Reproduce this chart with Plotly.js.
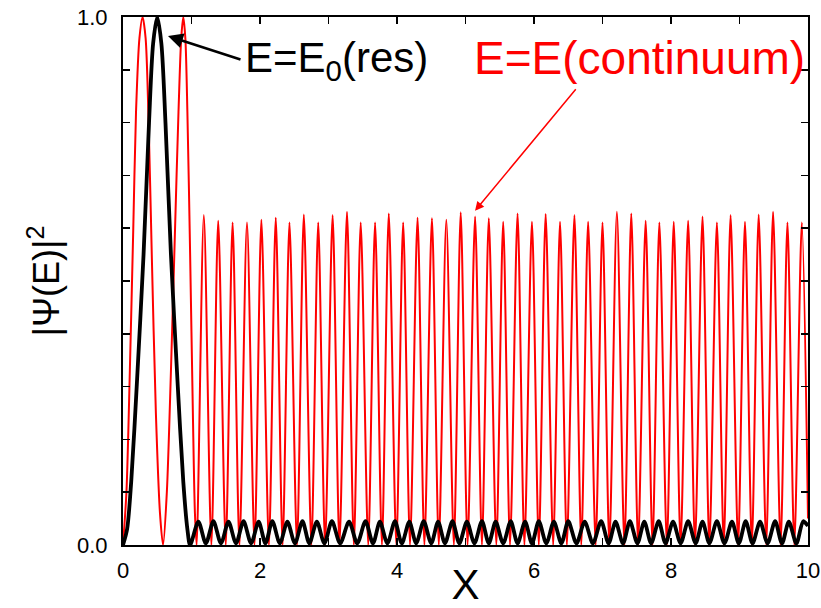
<!DOCTYPE html>
<html>
<head>
<meta charset="utf-8">
<script src="https://cdn.plot.ly/plotly-3.0.1.min.js"></script>
<style>html,body{margin:0;padding:0;background:#fff;}#chart{width:821px;height:608px;}</style>
</head>
<body>
<div id="chart"></div>
<script>
// ---- Red curve: E = E(continuum) ----
const redLobeX = [0, 0.05, 0.10, 0.15, 0.19, 0.24, 0.286, 0.33, 0.37, 0.42, 0.48, 0.54, 0.585, 0.64, 0.70, 0.76, 0.81, 0.85, 0.88, 0.91, 0.94, 0.98, 1.02, 1.05, 1.075];
const redLobeY = [0, 0.10, 0.33, 0.60, 0.82, 0.96, 1.00, 0.96, 0.82, 0.55, 0.25, 0.06, 0, 0.10, 0.33, 0.60, 0.82, 0.96, 1.00, 0.96, 0.82, 0.55, 0.25, 0.06, 0];
const redPeakX = [1.18, 1.39, 1.60, 1.81, 2.02, 2.23, 2.43, 2.64, 2.85, 3.06, 3.27, 3.47, 3.68, 3.88, 4.09, 4.30, 4.51, 4.72, 4.93, 5.14, 5.34, 5.55, 5.76, 5.97, 6.17, 6.38, 6.59, 6.79, 7.00, 7.21, 7.42, 7.63, 7.83, 8.04, 8.25, 8.46, 8.67, 8.87, 9.08, 9.28, 9.49, 9.70, 9.91];
const redPeakY = [0.625, 0.614, 0.611, 0.611, 0.616, 0.620, 0.611, 0.626, 0.611, 0.625, 0.631,
                  0.611, 0.611, 0.628, 0.611, 0.620, 0.619, 0.616, 0.630, 0.622, 0.619, 0.612, 0.628, 0.612, 0.627, 0.612, 0.625,
                  0.612, 0.611, 0.631, 0.628, 0.614, 0.611, 0.612, 0.614, 0.622, 0.611, 0.625, 0.612, 0.626, 0.631, 0.611, 0.611];
const redZeroX = [1.29, 1.50, 1.70, 1.92, 2.13, 2.33, 2.54, 2.75, 2.95, 3.16, 3.37, 3.58, 3.78, 3.99, 4.19, 4.40, 4.61, 4.83, 5.03, 5.24, 5.45, 5.65, 5.86, 6.07, 6.28, 6.48, 6.69, 6.90, 7.10, 7.32, 7.52, 7.73, 7.94, 8.14, 8.35, 8.56, 8.77, 8.98, 9.18, 9.39, 9.60, 9.80];
const redZeroY = 0;
const redEndX = [10];
const redEndY = [0.05];

// ---- Black curve: E = E0 (resonance) ----
const blackLobeX = [0, 0.06, 0.12, 0.20, 0.30, 0.38, 0.44, 0.50, 0.56, 0.62, 0.70, 0.80, 0.88, 0.94, 0.98];
const blackLobeY = [0, 0.03, 0.12, 0.30, 0.55, 0.80, 0.95, 1.00, 0.95, 0.80, 0.55, 0.30, 0.12, 0.03, 0];
const blackPeakX = [1.10, 1.32, 1.54, 1.76, 1.98, 2.18, 2.40, 2.62, 2.83, 3.05, 3.30, 3.54, 3.75, 3.97, 4.18, 4.39, 4.60, 4.81, 5.02, 5.24, 5.44, 5.66, 5.87, 6.07, 6.29, 6.50, 6.74, 6.98, 7.19, 7.40, 7.61, 7.82, 8.03, 8.25, 8.46, 8.67, 8.89, 9.09, 9.30, 9.52, 9.72, 9.93];
const blackPeakY = [0.044, 0.045, 0.044, 0.045, 0.044, 0.045, 0.044, 0.045, 0.044, 0.045, 0.044, 0.045, 0.044, 0.045, 0.044, 0.045, 0.044, 0.045, 0.044, 0.045, 0.044,
                    0.045, 0.044, 0.045, 0.044, 0.045, 0.044, 0.045, 0.044, 0.045, 0.044, 0.045, 0.044, 0.045, 0.044, 0.045, 0.044, 0.045, 0.044, 0.045, 0.044, 0.045];
const blackTroughX = [1.21, 1.43, 1.65, 1.87, 2.08, 2.29, 2.51, 2.72, 2.94, 3.17, 3.42, 3.65, 3.86, 4.07, 4.28, 4.50, 4.70, 4.91, 5.13, 5.34, 5.55, 5.76, 5.97, 6.18, 6.40, 6.62, 6.86, 7.09, 7.30, 7.51, 7.71, 7.92, 8.14, 8.36, 8.56, 8.78, 8.99, 9.19, 9.41, 9.62, 9.83];
const blackTroughY = 0.003;
const blackEndX = [10];
const blackEndY = [0.036];

// ---- Ticks ----
const xTickVals = [0, 1, 2, 3, 4, 5, 6, 7, 8, 9, 10];
const xTickText = ['0', '', '2', '', '4', '', '6', '', '8', '', '10'];
const yTickVals = [0, 0.1, 0.2, 0.3, 0.4, 0.5, 0.6, 0.7, 0.8, 0.9, 1.0];
const yTickText = ['0.0', '', '', '', '', '', '', '', '', '', '1.0'];

function merge(parts) {
  const pts = [];
  parts.forEach(p => {
    p.x.forEach((xv, i) => pts.push([xv, Array.isArray(p.y) ? p.y[i] : p.y]));
  });
  pts.sort((a, b) => a[0] - b[0]);
  return { x: pts.map(p => p[0]), y: pts.map(p => p[1]) };
}

const red = merge([
  { x: redLobeX, y: redLobeY },
  { x: redPeakX, y: redPeakY },
  { x: redZeroX, y: redZeroY },
  { x: redEndX, y: redEndY }
]);
const black = merge([
  { x: blackLobeX, y: blackLobeY },
  { x: blackPeakX, y: blackPeakY },
  { x: blackTroughX, y: blackTroughY },
  { x: blackEndX, y: blackEndY }
]);

const font = 'Liberation Sans, Arial, Helvetica, sans-serif';

const traces = [
  { x: red.x, y: red.y, type: 'scatter', mode: 'lines',
    line: { color: '#ff0000', width: 2, shape: 'spline', smoothing: 0.8 }, hoverinfo: 'skip' },
  { x: black.x, y: black.y, type: 'scatter', mode: 'lines',
    line: { color: '#000000', width: 3.8, shape: 'spline', smoothing: 0.8 }, hoverinfo: 'skip' }
];

const axisCommon = {
  showgrid: false, zeroline: false, showline: true, linecolor: '#000', linewidth: 2,
  mirror: 'ticks', ticks: 'inside', ticklen: 7, tickwidth: 1.5, tickcolor: '#000',
  tickfont: { family: font, size: 22, color: '#000' }, tickmode: 'array'
};

const layout = {
  width: 821, height: 608,
  margin: { l: 123, r: 13, t: 17, b: 63 },
  paper_bgcolor: '#fff', plot_bgcolor: '#fff',
  showlegend: false,
  xaxis: Object.assign({}, axisCommon, {
    range: [0, 10], tickvals: xTickVals, ticktext: xTickText, ticklabelstandoff: 5,
    title: { text: 'X', font: { family: font, size: 42, color: '#000' }, standoff: 0 }
  }),
  yaxis: Object.assign({}, axisCommon, {
    range: [0, 1], tickvals: yTickVals, ticktext: yTickText, ticklabelstandoff: 9,
    title: { text: '|Ψ(E)|<sup>2</sup>', font: { family: font, size: 36, color: '#000' }, standoff: 6 }
  }),
  annotations: [
    { x: 3.124, y: 0.918, xref: 'x', yref: 'y', text: 'E=E<sub>0</sub>(res)', showarrow: false,
      font: { family: font, size: 42, color: '#000' } },
    { x: 0.657, y: 0.964, xref: 'x', yref: 'y', text: '', showarrow: true,
      ax: 74, ay: 24, arrowhead: 2, arrowsize: 1.2, arrowwidth: 2.5, arrowcolor: '#000' },
    { x: 7.533, y: 0.922, xref: 'x', yref: 'y', text: 'E=E(continuum)', showarrow: false,
      font: { family: font, size: 46, color: '#ff0000' } },
    { x: 5.139, y: 0.633, xref: 'x', yref: 'y', text: '', showarrow: true,
      ax: 102, ay: -123, arrowhead: 2, arrowsize: 1.2, arrowwidth: 1.5, arrowcolor: '#ff0000' }
  ]
};

Plotly.newPlot('chart', traces, layout, { displayModeBar: false, staticPlot: true });
</script>
</body>
</html>
